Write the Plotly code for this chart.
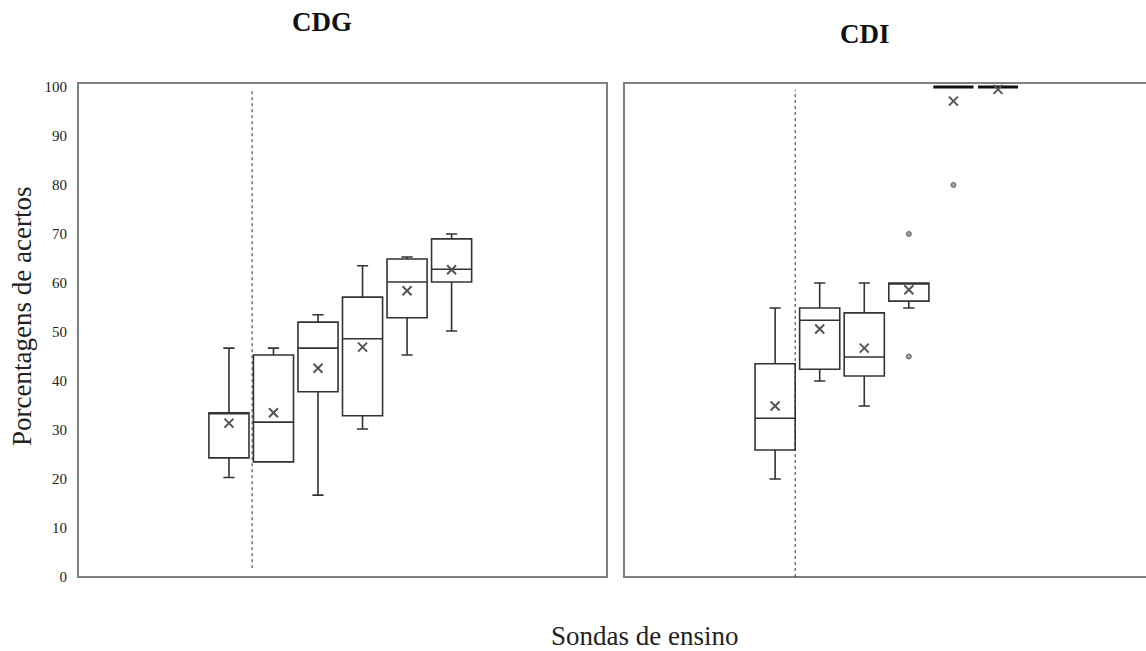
import plotly.graph_objects as go

# Teaching-probe positions (one box per probe)
probes = [1, 2, 3, 4, 5, 6]

# CDG panel: five-number summaries and means (% correct)
cdg_low = [20.3, 23.5, 16.7, 30.2, 45.3, 50.2]
cdg_q1 = [24.3, 23.5, 37.8, 32.9, 52.9, 60.2]
cdg_median = [33.5, 31.6, 46.7, 48.6, 60.2, 62.8]
cdg_q3 = [33.5, 45.3, 52.0, 57.1, 64.9, 69.0]
cdg_high = [46.7, 46.7, 53.5, 63.5, 65.3, 70.0]
cdg_mean = [31.4, 33.5, 42.6, 46.9, 58.4, 62.7]

# CDI panel
cdi_low = [20.0, 40.0, 34.9, 54.9, 100.0, 100.0]
cdi_q1 = [25.9, 42.4, 41.0, 56.3, 100.0, 100.0]
cdi_median = [32.4, 52.4, 44.9, 60.0, 100.0, 100.0]
cdi_q3 = [43.5, 54.9, 53.9, 60.0, 100.0, 100.0]
cdi_high = [54.9, 60.0, 60.0, 60.0, 100.0, 100.0]
cdi_mean = [34.9, 50.6, 46.7, 58.6, 97.1, 99.5]
cdi_outlier_probe = [4, 4, 5]
cdi_outlier_value = [45.0, 70.0, 80.0]

y_ticks = [0, 10, 20, 30, 40, 50, 60, 70, 80, 90, 100]

# Separator between baseline probe and the following probes
cdg_separator = 1.52
cdi_separator = 1.45

W, H = 1146, 651
ML, MR, MT, MB = 78, 0, 83, 74
SERIF = "Liberation Serif, Times New Roman, serif"
BOX_LINE = "#333333"
FRAME = "#808080"


def paper_x(px):
    return (px - ML) / (W - ML - MR)


def paper_y(py):
    return (H - MB - py) / (H - MT - MB)


fig = go.Figure()


def add_panel(xa, ya, low, q1, med, q3, high, mean):
    for i, p in enumerate(probes):
        collapsed = q1[i] == q3[i] and low[i] == high[i]
        fig.add_trace(go.Box(
            x=[p], q1=[q1[i]], median=[med[i]], q3=[q3[i]],
            lowerfence=[low[i]], upperfence=[high[i]],
            width=0.9, whiskerwidth=0.28,
            fillcolor="rgba(255,255,255,0)",
            line=dict(color="#111111" if collapsed else BOX_LINE,
                      width=3 if collapsed else 1.6),
            boxpoints=False, showlegend=False, hoverinfo="skip",
            xaxis=xa, yaxis=ya,
        ))
    fig.add_trace(go.Scatter(
        x=probes, y=mean, mode="markers",
        marker=dict(symbol="x-thin", size=9,
                    line=dict(color="#555555", width=2)),
        showlegend=False, xaxis=xa, yaxis=ya,
    ))


add_panel("x", "y", cdg_low, cdg_q1, cdg_median, cdg_q3, cdg_high, cdg_mean)
add_panel("x2", "y2", cdi_low, cdi_q1, cdi_median, cdi_q3, cdi_high, cdi_mean)

fig.add_trace(go.Scatter(
    x=cdi_outlier_probe, y=cdi_outlier_value, mode="markers",
    marker=dict(symbol="circle", size=5, color="#a0a0a0",
                line=dict(color="#666666", width=1)),
    showlegend=False, xaxis="x2", yaxis="y2",
))

y_range = [0, 100.8]

fig.update_layout(
    width=W, height=H,
    margin=dict(l=ML, r=MR, t=MT, b=MB, autoexpand=False),
    paper_bgcolor="white", plot_bgcolor="white",
    font=dict(family=SERIF, color="#222222"),
    boxmode="overlay",
    xaxis=dict(domain=[0, paper_x(607)], range=[-2.39, 9.49],
               showticklabels=False, showgrid=False, zeroline=False,
               ticks=""),
    yaxis=dict(domain=[0, 1], range=y_range, tickvals=y_ticks,
               showgrid=False, zeroline=False, ticks="",
               ticklabelstandoff=10,
               tickfont=dict(family=SERIF, size=15, color="#222222")),
    xaxis2=dict(domain=[paper_x(624), 1.0], range=[-2.39, 9.32],
                showticklabels=False, showgrid=False, zeroline=False,
                ticks=""),
    yaxis2=dict(domain=[0, 1], range=y_range, anchor="x2",
                showticklabels=False, showgrid=False, zeroline=False,
                ticks=""),
)

# Panel frames and separators
shapes = [
    dict(type="rect", xref="x domain", yref="y domain",
         x0=0, x1=1, y0=0, y1=1, line=dict(color=FRAME, width=2)),
    dict(type="path", xref="x2 domain", yref="y2 domain",
         path="M 1.2,1 L 0,1 L 0,0 L 1.2,0",
         line=dict(color=FRAME, width=2)),
    dict(type="line", xref="x", yref="y",
         x0=cdg_separator, x1=cdg_separator, y0=1.8, y1=99.4,
         line=dict(color="#333333", width=1, dash="dot")),
    dict(type="line", xref="x2", yref="y2",
         x0=cdi_separator, x1=cdi_separator, y0=0, y1=99.4,
         line=dict(color="#333333", width=1, dash="dot")),
]
fig.update_layout(shapes=shapes)

annotations = [
    dict(text="<b>CDG</b>", x=paper_x(322), y=paper_y(22),
         xref="paper", yref="paper", showarrow=False,
         xanchor="center", yanchor="middle",
         font=dict(family=SERIF, size=27, color="#111111")),
    dict(text="<b>CDI</b>", x=paper_x(865), y=paper_y(34),
         xref="paper", yref="paper", showarrow=False,
         xanchor="center", yanchor="middle",
         font=dict(family=SERIF, size=27, color="#111111")),
    dict(text="Porcentagens de acertos", x=paper_x(22), y=paper_y(317),
         xref="paper", yref="paper", showarrow=False, textangle=-90,
         xanchor="center", yanchor="middle",
         font=dict(family=SERIF, size=27, color="#222222")),
    dict(text="Sondas de ensino", x=paper_x(644), y=paper_y(636),
         xref="paper", yref="paper", showarrow=False,
         xanchor="center", yanchor="middle",
         font=dict(family=SERIF, size=27, color="#222222")),
]
fig.update_layout(annotations=annotations)

fig.write_html("out.html")
